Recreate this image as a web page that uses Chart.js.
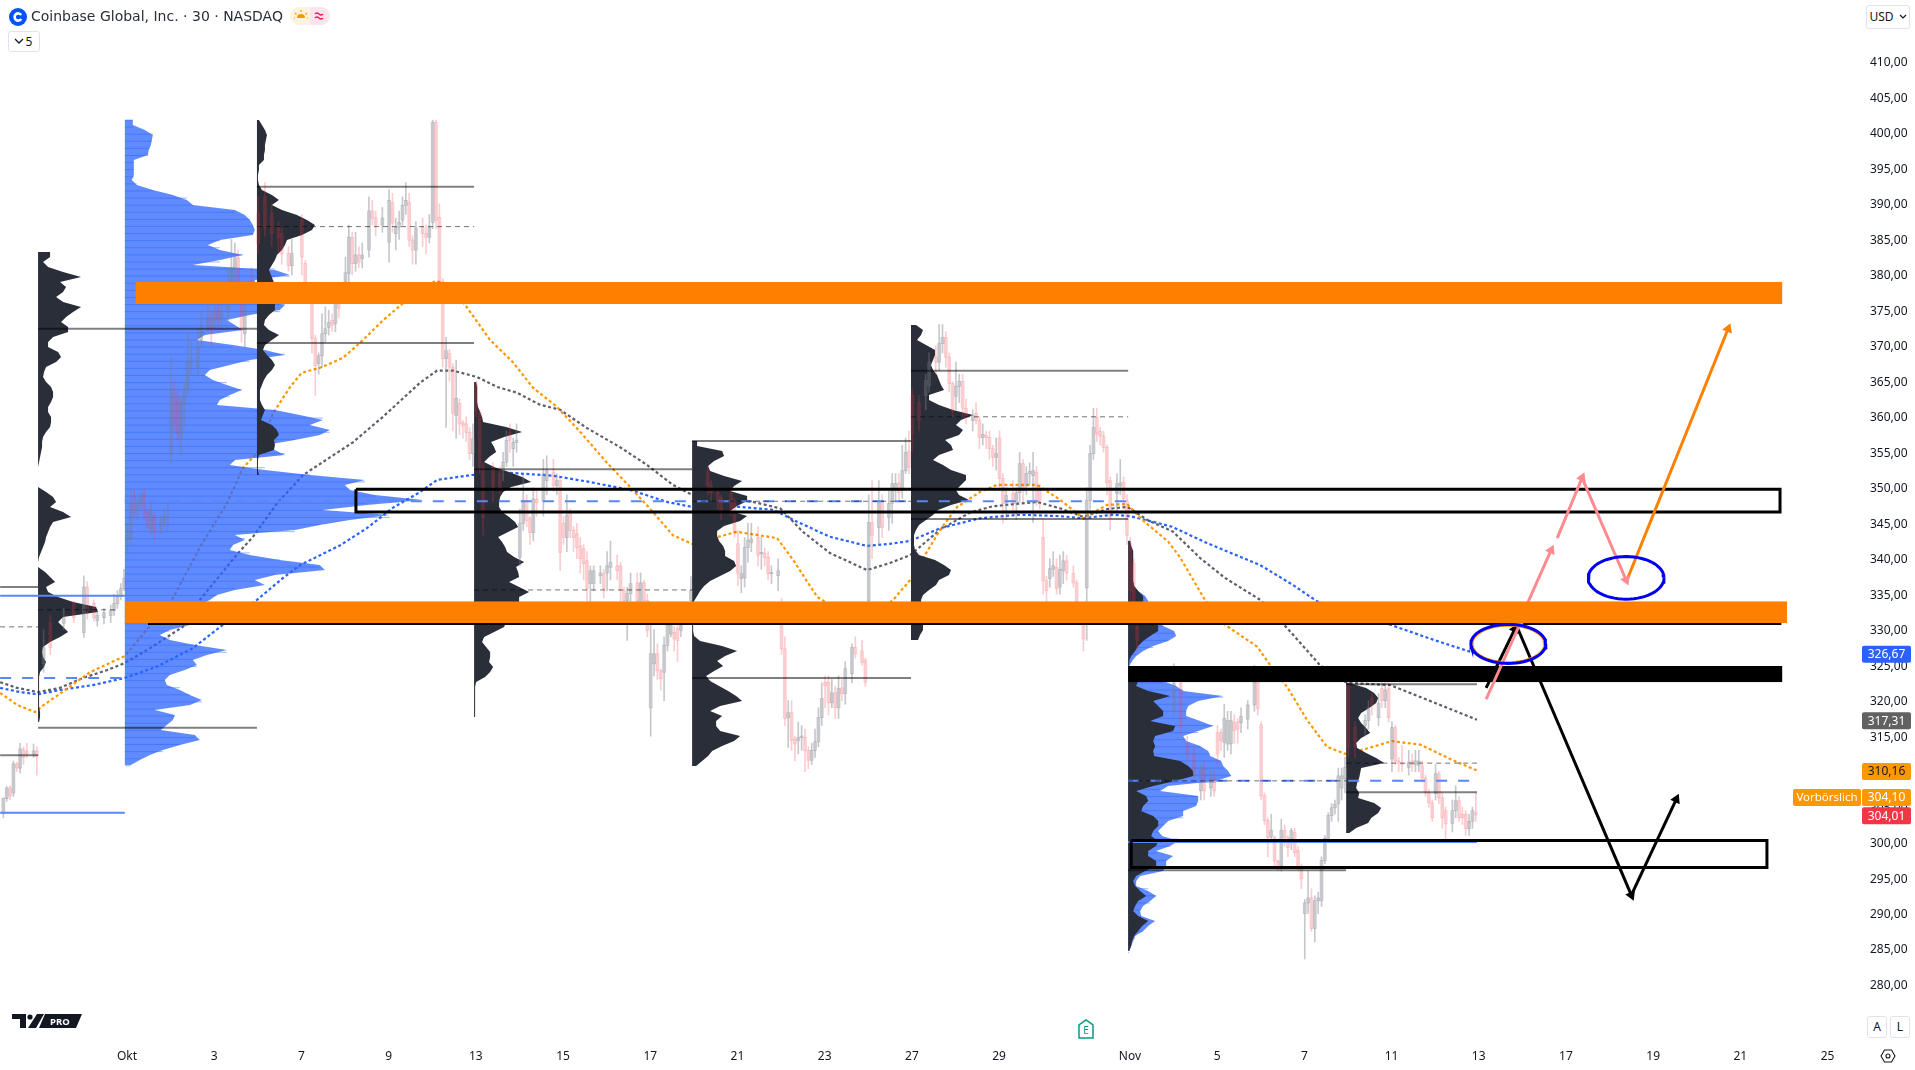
<!DOCTYPE html>
<html>
<head>
<meta charset="utf-8">
<title>Coinbase Global, Inc.</title>
<script src="https://cdn.jsdelivr.net/npm/chart.js@4"></script>
<style>
html, body { margin: 0; padding: 0; background: #fff; overflow: hidden; }
body { width: 1915px; height: 1070px; position: relative; font-family: "Noto Sans", sans-serif; color: #131722; }
#myChart { position: absolute; left: 0; top: 0; }
.ui { position: absolute; }
#title { left: 31px; top: 6px; font-family: "DejaVu Sans", sans-serif; font-size: 14px; line-height: 20px; white-space: nowrap; color: #2a2e39; }
.box { border: 1px solid #e0e3eb; border-radius: 3px; background: #fff; box-sizing: border-box; text-align: center; font-size: 12px; }
</style>
</head>
<body>
<canvas id="myChart" width="1915" height="1070"></canvas>

<svg class="ui" style="left:8px;top:7px" width="20" height="20" viewBox="0 0 20 20">
  <circle cx="10" cy="10" r="9" fill="#0052ff"/>
  <path d="M13.2 8a3.6 3.6 0 1 0 0 4" fill="none" stroke="#fff" stroke-width="2.6"/>
</svg>
<div class="ui" id="title">Coinbase Global, Inc. · 30 · NASDAQ</div>
<svg class="ui" style="left:290px;top:7px" width="40" height="18" viewBox="0 0 40 18">
  <path d="M9 0h11v18H9a9 9 0 0 1 0-18z" fill="#fff3e0"/>
  <path d="M20 0h11a9 9 0 0 1 0 18H20z" fill="#fce4ec"/>
  <path d="M7 11a4 4 0 0 1 8 0z" fill="#ff9800"/>
  <path d="M11 3v2M5 6l1.5 1.5M17 6l-1.5 1.5M4 11h1M17 11h1" stroke="#ff9800" stroke-width="1.2"/>
  <path d="M25 7q2-2 4 0t4 0M25 11q2-2 4 0t4 0" fill="none" stroke="#e91e63" stroke-width="1.4"/>
</svg>
<div class="ui box" style="left:8px;top:31px;width:32px;height:21px;line-height:19px;padding-left:10px">5</div>
<svg class="ui" style="left:14px;top:38px" width="10" height="7"><path d="M1 1l4 4 4-4" fill="none" stroke="#131722" stroke-width="1.3"/></svg>
<div class="ui box" style="left:1866px;top:5px;width:44px;height:24px;line-height:22px;padding-right:13px">USD</div>
<svg class="ui" style="left:1899px;top:14px" width="8" height="6"><path d="M1 1l3 3 3-3" fill="none" stroke="#131722" stroke-width="1.2"/></svg>
<div class="ui box" style="left:1867px;top:1016px;width:20px;height:22px;line-height:20px">A</div>
<div class="ui box" style="left:1890px;top:1016px;width:20px;height:22px;line-height:20px">L</div>
<svg class="ui" style="left:1880px;top:1048px" width="16" height="16" viewBox="0 0 16 16">
  <path d="M4.5 2h7L15 8l-3.500 6h-7L1 8z" fill="none" stroke="#131722" stroke-width="1.1"/>
  <circle cx="8" cy="8" r="2" fill="none" stroke="#131722" stroke-width="1.1"/>
</svg>
<svg class="ui" style="left:12px;top:1013px" width="70" height="16" viewBox="0 0 70 16">
  <path d="M0 1h14v14H8V6H0zM25 1h7l-8 14h-8zM33 1h37l-6 14H27z" fill="#131722"/>
  <circle cx="18" cy="4" r="2.6" fill="#131722"/>
  <text x="38" y="12" font-family="Noto Sans" font-size="9.5" font-weight="700" fill="#fff">PRO</text>
</svg>
<svg class="ui" style="left:1077px;top:1018px" width="18" height="22" viewBox="0 0 18 22">
  <path d="M2 20V7l7-5 7 5v13z" fill="#fff" stroke="#089981" stroke-width="1.5"/>
  <text x="9" y="16" text-anchor="middle" font-family="Noto Sans" font-size="10" fill="#089981">E</text>
</svg>

<script>
// time axis is in trading days counted from 1 Okt, one candle is 1/13 day
const dayTicks = [0, 2, 4, 6, 8, 10, 12, 14, 16, 18, 20, 23, 25, 27, 29, 31, 33, 35, 37, 39];
const dayLabels = ['Okt', '3', '7', '9', '13', '15', '17', '21', '23', '27', '29', 'Nov', '5', '7', '11', '13', '17', '19', '21', '25'];
const priceTicks = [280, 285, 290, 295, 300, 305, 310, 315, 320, 325, 330, 335, 340, 345, 350, 355, 360, 365, 370, 375, 380, 385, 390, 395, 400, 405, 410];

// candles: [bar, open, high, low, close]
const candlesSep = [
  [1,304.1,306.3,303.5,306.3],[2,306.2,307.9,305.8,307.7],[3,307.7,308,306,306.6],[4,307,311.5,306.5,311.1],[5,311.1,311.3,310,310.5],
  [6,310.5,314,309.8,313.2],[7,313.1,313.5,311,312],[8,312.9,314,312,312.5],[10,312.5,313.9,312,312.9],[11,312.9,313.5,309.5,312.2],
  [13,325.2,330,324,327.5],[15,331,332,326.5,327.5],[19,330.9,333,330,331.7],[22,333.7,334,331,331.7],[25,329.6,337.6,328.9,336],
  [26,336,336.8,331.5,332.7],[28,333.7,334.2,331.2,331.7],[29,331.3,332.8,330.5,332],[31,331.7,333,330.8,332.4],[33,332,333.5,331,332.7],
  [34,332.7,335,332,333.7],[35,333.7,335.5,333,334.8],[36,334.8,336.5,334.2,335.8],[37,335.8,338.5,335.5,337.2]
];
const candlesEarlyOkt = [
  [38,342.6,345,340.5,343.3],[39,343,349.6,341.8,347.8],[40,348.9,349.6,346,346.8],[41,346.8,348.5,345.5,347.8],[42,347.8,349.3,347,348.6],
  [43,349.2,350,345.5,346.4],[44,346.5,347,344,344.4],[45,344.2,348,343.5,346.4],[46,346.1,346.5,342.5,343.7],[48,344.2,346,343.5,345.1],
  [49,345.1,347,344.5,346],[50,345.8,348,344,346],[51,354.5,368.4,353.5,364],[52,363.3,365,358,359],[53,362.7,364,356.5,357.6],
  [54,357.1,363,354.5,362],[55,361.9,365,358.5,364],[56,364,372,363,367.7],[57,367.5,370.5,366,368.2],[59,367,372.5,366,369.8],
  [60,370.8,375,370,372.6],[62,372.4,376,372,374],[63,373.9,375,370,371.7],[64,373.6,377,372.5,375],[65,375,378,372,373.6],
  [66,374,378,372.5,374.6],[68,375,381,373.5,378.2],[69,377.4,385,376,381],[70,381,384.5,379,382.4],[71,382.4,383.5,378,379.2],
  [72,376.4,379,370.5,372.2],[73,371.7,376.5,369.8,375],[75,379.2,381,376,376.4],[77,388.7,391,383,384.4],[79,391,393,385.5,386.7],
  [81,388.7,390,384,385.8],[83,386.7,387.5,383,385.3],[84,385.8,386.5,381.5,383],[86,383,384,380.5,381.3],[87,381.3,385,380,383],
  [90,387.7,388.5,380,382.5],[91,381.6,382,376,378.8],[93,376.4,377,369,371],[94,371,371.5,363,367.2],[95,367.5,369,366,368.6],
  [96,368.6,374.5,367,371.7],[97,371.7,375.5,370.5,372.4],[98,372.6,375,371.5,373.3],[99,373.6,374.5,372,372.9],[100,373.1,378,372,376]
];
const candlesMidOkt = [
  [101,375.9,377,374,375.3],[103,379,382.5,377,380.3],[104,380.2,387,379,385.3],[105,385.3,386,380,381.6],[106,381.6,386,380.5,382.8],
  [107,382.8,384,381,381.8],[108,382.3,384.5,381,382.8],[110,383.5,391,382.5,389],[111,389,390.5,387,388],[112,388,389,385.5,387],
  [114,387,389.5,386,388],[116,384.6,392,381.8,390.5],[117,390.2,391.5,386,387.3],[118,385.8,388,383.5,386.7],[119,386.7,389,385,387.4],
  [120,387.7,391,387,389.8],[121,389.8,393,388.5,390.5],[122,390.2,391.5,384,384.9],[123,384.9,385.5,381.5,383.5],[124,383.5,387.5,381.5,386.6],
  [126,386.7,388,384,385.8],[127,385.8,387,383,385.3],[128,385.3,388.5,384.5,386.7],[129,387.4,401.8,386.5,401.5],[130,401.5,401.8,386.5,387.7],
  [131,388.1,390,378,379],[132,379,379.5,367,368.2],[133,368.2,371.2,358.5,369.3],[134,368.9,369.5,365,367],[135,367,367.5,358,360.5],
  [136,360.2,368,357,362.6],[137,361.9,362.5,357.5,359],[138,359.2,359.5,357,358.8],[139,359,360,356.5,357.8],[140,357.8,358.5,354,354.8],
  [141,354.8,359,353,356.9],[142,364.7,365,360,360.9],[143,360.6,361,352,352.9],[144,352.9,353.5,343.3,345.8],[147,352.9,353.5,348,350],
  [149,352,353,349,349.9],[150,352.4,355,351,353.6],[151,353.6,358,353,356.7],[152,357.8,359,355,356.7],[153,355.5,357,353,356.4],
  [154,356.4,359,355,356.7],[155,340.2,347,339,345],[156,345,352,344,348.2],[157,348.2,349,344.5,345.4],[158,345.7,346,342,343.7],
  [159,343.7,350,342.5,348.4],[160,348.4,349.5,346,347.9],[162,348.2,354,346,352],[163,351,354.5,349,352.4],[165,352.2,354,349.5,350.3],
  [166,350.3,352,349,351],[167,351,351.5,338.3,340.9],[168,345,346,342,343],[169,343,349,341,346.1],[170,346.4,347,343,344]
];
const candlesLateOkt = [
  [171,344,344.5,341,343],[172,343.5,345,340,341.6],[173,341.8,343,338,340],[174,341.4,342,337,339.3],[175,339.7,341,334,335.8],
  [176,336.5,339,333,338.3],[177,336.5,339,335.5,338.3],[179,337.6,339,336.5,338],[180,337.9,338.5,334.5,335.8],[181,338,341,335.5,339],
  [182,338.8,342.5,337,339.5],[184,339,340.5,337,338.3],[185,339,339.5,334,335.5],[186,335.5,336,333,334.1],[187,334.1,336,328.5,335.1],
  [188,335.1,338,334,336.5],[190,336.6,338,333,334.1],[191,333.8,338,333,336.6],[192,336.6,337,333,334.1],[193,334.1,335,329,329.9],
  [194,319,330.8,315,326.6],[195,325.2,330,323.5,326.6],[196,326.6,328,323,324.2],[197,324.2,324.5,321.5,323.1],[198,324,329,320,327.8],
  [199,327.8,331,327,330.6],[200,329.4,331.5,329,330.6],[201,329.6,330.5,327,328.7],[202,330.2,330.7,325.5,328.5],[203,329.9,331.5,329,330.6],
  [206,334.1,337.5,333.5,335.5],[211,352.2,353,349,350.3],[212,350.3,351,348,349.3],[214,349.3,350,347,348.2],[215,348.6,349,345.5,346.8],
  [218,349.2,350,346,346.8],[219,347.8,348.5,343,343.7],[220,342.1,344,336.2,338],[221,337.2,339,335.2,337.9],[222,337.3,343,336,341.6],
  [223,341.6,345,339.5,342.6],[224,342.3,345,341,342.8],[226,343,344.5,339,340.5],[227,340.7,343,338.5,340.9],[228,340.8,341.5,339,340.2],
  [229,340.2,341,337,337.9],[230,337.9,339,336.5,338],[232,337.6,340,335.5,338.3],[233,330.9,334.4,326.5,327.3],[234,327.3,329,316.5,317.5],
  [235,317.6,320,313.4,318.3],[236,318.3,320,313,314.4],[237,314.6,315,311.5,313.9],[238,314.4,317,312.5,314.8],[239,314.8,316.5,313,315],
  [240,314.8,316,310,313],[241,313,313.5,310.4,311.6],[242,311.6,314,311,313],[243,313,316,312,314.2],[244,314.2,319,313.5,317.6],
  [245,317.6,322.5,316.5,320.3],[246,322.6,323.5,319,322.1],[247,322.6,323.5,318,319.7],[248,319.7,323,319,321.1],[249,321.1,322,317.5,319],
  [250,319,323.5,317.5,321.7],[251,321.8,323,320,321],[252,321,325.5,319.5,324.5],[254,323.8,328,322.5,327.5],[255,327.5,329,326,326.6],
  [257,327,328.5,325,325.4],[258,325.7,326,322,322.6],[259,334.1,349,332,345.1],[260,345.1,351,340,343.3],[262,344.4,351,342,348.2]
];
const candlesEarlyNov = [
  [263,348.2,349,343,344.4],[265,345.8,349.5,344,347.8],[266,347.8,352,345,350.6],[267,349.9,352,348,350.6],[268,350.7,352,348,349.3],
  [269,349.9,356,348.5,352.4],[270,352.4,357,352,355],[271,355.2,358,352,352.9],[272,363,364,355,357.6],[274,362,363,358,359.5],
  [276,363,366,361,365.1],[277,364.4,369,363.5,367.7],[279,368.4,370,366,367.7],[280,367.7,373,366.5,370.3],[281,370.3,373,369,371.2],
  [282,371.2,372,367,368.4],[283,368.4,369,363.5,364.7],[284,364.7,365,360,360.9],[285,362.9,367.7,361,364.3],[286,364.3,366,362,365],
  [287,365,366,360,361.2],[288,361.2,362.5,359,359.9],[290,359.5,361,358,360.2],[291,360.5,362,359,359.5],[292,359.5,360,355.5,357.1],
  [293,357.1,359,356,357.5],[294,357.4,358,355.5,357.1],[295,357.1,358,354,355.5],[296,355.5,356,353,354.3],[297,354.3,357,352.5,354.8],
  [298,357,358,350,351.3],[299,351.3,352,345,347.8],[300,347.8,350,345.5,348.9],[302,349.2,351,346,347.8],[303,347.8,350,345.5,349.3],
  [304,349.3,355,348,353.4],[305,353.4,354,348,349.6],[306,350.3,353,349,352],[307,352,353.5,350.5,352.3],[308,351.7,355,345.1,352.4],
  [309,352.2,353,347.5,348.2],[310,349.6,350.5,347,348.2],[311,343,345.5,335,336.9],[312,336.9,337.5,333.5,335.5],[313,337.2,340,336,338.6],
  [314,338.5,341,337.5,339],[315,338.8,340,335,335.8],[316,336,340.5,335,338.5],[317,338.3,341,336.5,339.7],[318,339.7,340.5,337,338],
  [320,337.9,339,336,336.6],[321,336.6,337,332.5,333.8],[323,330.6,331.5,327,328.7],[324,335.9,350,328.5,348.2],[325,348.2,356,347,354.8],
  [326,354.8,361.2,354,358.5],[327,359.9,361.2,356.5,357.6],[328,357.9,358.5,356,357.3],[329,357.3,358,355,355.7],[330,355.7,356,349,350.7],
  [331,351,351.5,344,345.8],[333,349.2,352,346.5,350.6],[334,350.3,354,349,350.7],[335,350.7,351.5,347,348.5],[336,348.2,349,342,343.3]
];
const candlesMidNov = [
  [337,342.1,343,333,335.5],[338,339.3,340,332,333.7],[339,330.3,331,327,328.5],[350,318.6,325.2,318,322.4],[352,322.4,323,315,316.2],
  [354,313.9,315,311,312.5],[356,312.5,313.5,309,309.7],[358,307.3,311,306,310.4],[359,310.4,311.5,306,307.3],[361,307.7,310,306.5,309.1],
  [362,309.1,310,306.5,307.3],[363,315.5,316.5,311,312.5],[364,315.5,316,313,314.4],[365,314.1,319.5,312,317.5],[366,313.9,318.5,313,317.2],
  [367,313.9,318.5,312.5,317.2],[368,316.9,318,314,315.8],[369,317,317.5,314,316],[370,316.9,319,315.5,317.8],[372,317.4,320,316,319.4],
  [374,319.4,325,318.5,322.6],[375,322.6,323,318,318.9],[376,316.6,317,306,306.6],[377,306.6,307,302.5,303.1],[378,303.1,303.5,298,300.7],
  [379,300.8,304,300.5,301.7],[380,300.7,301,296.5,297.4],[381,297.4,297.5,296,296.7],[382,296.7,303.3,296,301.7],[383,301.7,302.5,299.5,300.7],
  [384,300.7,301,298,299.3],[385,300.6,302,299,301.7],[386,301.4,302,298,298.6],[387,298.9,299.5,296,296.5],[388,296.5,297,293.5,294.9],
  [389,290,292,283.6,291.5],[390,291.5,296,290,292.2],[391,292.2,293.5,287.5,287.9],[392,287.9,292.5,286,291.8],[393,291.8,293,290,292.2],
  [394,291.8,298,291,297.5],[395,297.5,301,297,300.6],[396,300.6,304.2,300,303.8],[397,303.8,305.5,303,304.9],[398,304.9,306,304,305.4],
  [399,305.5,310.5,303,309.4],[400,307.7,310.5,306,309.4],[401,309,312,307,310.6],[402,322.4,323,312,313.4],[404,316.2,317,312,313.4],
  [407,316.5,318,315,317.2],[408,317.2,320,316,319],[409,320.4,321,318,319.3],[411,317.6,321,316.5,319.6],[412,321.7,322.5,319,320],
  [413,320,322.5,319,321.5],[414,321.7,322.5,317,317.6],[415,311.8,317,310,316.2],[416,316.2,316.5,311,311.5],[417,311.5,312,310,311.2],
  [418,311.2,313.7,310,311],[420,310.6,313,309.5,311.3],[421,311.5,312.5,310,311],[422,311,313,310,311.5],[423,310.9,313,310,311.5],
  [424,310.8,311.5,308.5,309.1],[425,309.1,309.5,306.5,307],[426,307,307.5,305,305.6],[427,305.6,306,303,303.5],[428,306.9,311,306,309.7],
  [429,309.7,310,305.5,306.3],[430,306.3,307,302,303.5],[431,304.5,305,300.5,302.7],[433,302.7,306,301.5,304.5],[434,304.5,308,303.5,305.9],
  [435,305.9,306.5,303,303.5],[436,304,305,302.5,303.5],[437,304,304.5,301,302],[438,302,304,301,303],[439,303,305,302,304.5],[440,304.2,307,303,303.9]
];
const candleGroups = [candlesSep, candlesEarlyOkt, candlesMidOkt, candlesLateOkt, candlesEarlyNov, candlesMidNov];
const firstBarDay = -2.913;
const barsPerDay = 13;

// volume profile rows run down from the top price, rowStep dollars apart
const rowStep = 0.7045;
const profileStarts = [-2.04, 2.98, 7.96, 12.96, 17.98, 22.96, 27.96];
const profileTops = [383.22, 401.82, 364.9, 356.59, 372.93, 342.5, 322.48];
const volSep = [12,12,5,10,25,43,22,28,25,18,25,43,35,28,23,30,30,15,10,10,20,23,18,8,6,5,8,13,15,15,13,10,10,13,13,12,8,5,4,4,3,2,1,0,0,0,0,0,8,15,18,12,25,33,15,12,10,8,7,5,3,1,0,0,7,12,17,8,10,20,35,58,60,25,20,25,30,22,12,5,4,5,8,6,2,1,1,1,1,1,1,1,2,2,1];
const volOkt = [2,5,8,10,9,8,8,7,7,2,2,1,1,2,5,15,22,15,25,40,50,58,55,45,30,28,25,20,18,15,12,14,16,18,18,18,18,18,18,12,8,7,12,22,15,8,6,10,15,18,15,10,7,5,3,3,3,5,8,6,4,15,20,22,17,18,17,2,1,1,1,2];
const volOkt2 = [2,3,3,3,3,4,6,8,9,32,48,30,17,20,22,15,10,20,35,48,57,37,29,26,25,25,28,35,41,44,34,24,28,31,33,40,50,42,44,45,35,45,55,45,45,40,36,34,32,30,20,10,8,12,16,16,15,19,16,11,2,1,1,1,1,1,1,1];
const volOkt3 = [5,5,30,32,22,16,18,32,50,42,38,55,55,45,38,55,48,32,25,25,27,31,33,33,42,44,38,28,18,12,8,5,2,1,1,1,1,1,1,2,8,30,45,33,25,31,22,14,18,27,36,44,50,28,18,30,24,24,28,48,42,30,20,16,10,4];
const volOkt4 = [5,12,10,6,15,24,24,22,20,22,26,28,30,33,18,18,28,42,62,50,45,52,48,34,40,42,28,22,32,40,55,55,50,45,48,58,40,27,22,15,8,5,3,3,3,4,8,24,33,40,38,28,25,18,12,10,10,10,10,10,12,12,9,7];
const volNov = [2,3,5,5,5,5,5,5,5,6,10,15,15,18,20,25,28,30,30,22,15,10,7,3,1,1,1,1,10,8,20,42,25,30,35,35,22,47,45,27,25,27,25,26,52,60,65,65,47,25,8,18,20,15,13,25,30,30,25,23,30,28,20,20,28,28,17,8,5,7,12,18,10,7,5,10,20,14,10,6,4,3,1];
const volNov2 = [3,20,28,32,30,23,15,12,15,20,24,15,10,11,20,30,38,15,14,13,11,10,13,12,28,35,32,25,22,10,3];
const darkProfiles = [volSep, volOkt, volOkt2, volOkt3, volOkt4, volNov, volNov2];

// the blue profiles, one over all of Okt and one for Nov
const blueStartOkt = -0.05;
const blueTopOkt = 401.82;
const blueVolOkt = [8,8,20,28,27,26,24,23,9,9,9,9,7,12,28,48,62,68,110,120,125,128,130,128,95,83,95,118,95,68,150,165,130,130,130,130,130,160,155,125,102,110,118,80,72,108,140,160,125,105,85,80,88,102,117,105,95,92,150,175,198,185,205,195,170,140,150,160,110,105,140,185,240,220,225,250,298,242,198,265,225,195,170,110,120,108,105,125,155,195,200,150,130,140,110,92,85,75,70,68,66,65,45,35,45,70,102,82,68,72,60,45,40,42,55,65,77,65,30,50,48,42,36,70,75,55,38,25,15,6];
const blueStartNov = 22.96;
const blueTopNov = 342.5;
const blueVolNov = [2,3,5,5,5,5,5,5,5,6,10,17,20,20,22,27,30,35,46,48,40,25,15,8,4,1,1,1,35,48,55,95,70,60,58,58,72,85,70,55,58,72,80,82,93,95,100,103,88,40,32,70,70,68,55,55,40,35,30,34,50,42,28,45,38,38,35,12,8,8,20,28,22,15,12,13,27,20,15,7,5,3,1];
const volPerDay = 43.6; // profile width unit

// moving averages
const orangeDays = [-2.91,-2.52,-2.11,-1.93,-1.42,-0.85,-0.05,1.03,1.67,2.29,2.66,2.98,3.35,3.74,4.01,4.43,4.95,5.41,5.87,6.33,7.06,7.25,7.75,8.33,8.85,9.31,9.86,10.39,11.01,11.54,12.06,12.52,12.96,13.99,14.91,15.28,15.83,16.88,17.57,17.96,18.26,18.65,19.04,19.56,19.95,20.87,21.4,21.93,22.48,22.94,23.28,23.88,24.15,24.72,25.18,25.92,26.22,26.61,27.06,27.52,27.94,28.35,29.01,29.66,30.41,30.96];
const orangePrices = [321.1,319.4,318.4,319.3,321.5,324,326.3,334.2,341.6,347.8,352.8,354.9,360.5,364.2,366.2,366.9,368.3,370.8,373.6,376,379.1,378.9,375.8,370.8,367.7,364.1,361.4,357.9,353.5,350.1,346.6,343.3,342.1,343.8,342.9,339.8,334.6,330.7,334.2,337,340.1,344.1,347.3,349.4,350.4,350.4,348.3,345.7,347.6,347.7,345.5,342.4,340.2,334.2,330.7,327.6,325,321.9,317.3,313.5,312.5,313.1,314.3,313.8,311.6,310.16];
const grayDays = [-2.91,-2.52,-2.04,-1.54,-1.01,-0.46,-0.05,0.53,1.28,1.67,2.55,2.89,3.44,4.04,5.18,5.87,6.72,7.11,7.48,8.03,8.49,8.94,9.47,9.93,10.55,11.31,11.93,12.52,12.96,14.36,14.98,15.5,16.12,16.97,17.5,17.96,18.65,19.33,19.86,20.87,21.4,21.93,22.48,22.94,23.39,23.99,24.61,25.18,25.99,26.61,27.36,27.98,28.97,29.95,30.96];
const grayPrices = [322.6,321.8,321.2,321.8,323.2,324.3,325.3,327.4,330.4,334.2,340.8,343.1,347.8,351.8,356.4,360,364.8,366.5,366.5,365.6,364.2,363.4,361.7,361,358.4,355.7,353.2,350.4,349,348,347.1,343.8,340.8,338.4,339.4,340.5,344.1,346.5,347.4,348,347.1,345.9,347,347.3,345.5,343.8,340.1,337.3,334.2,330.2,325,322.5,322.2,319.8,317.31];
const blueDays = [-2.91,-2.45,-2.04,-1.54,-0.78,-0.05,0.69,1.51,2.2,2.98,3.58,3.97,4.89,5.5,6.1,6.72,7.11,7.91,8.78,9.77,10.62,11.54,12.39,12.96,14.06,14.82,15.37,16.12,16.97,17.5,17.96,18.65,19.56,20.48,21.4,21.93,22.61,23,23.53,23.97,24.77,25.99,26.74,27.29,28.97,29.95,30.8,30.96];
const bluePrices = [321.8,321.2,320.9,321.5,322.2,323.2,324.8,327.4,330.7,334.2,337.3,339.1,341.9,344.3,347.2,349.4,351.1,351.8,352.1,351.7,350.8,349.7,348,347.3,347.3,346.9,345.2,343.1,341.8,342.1,342.5,344.3,345.7,346.2,346,345.7,346.2,346,345.2,344.5,342.2,339.1,336.3,334,330.7,328.6,326.9,326.67];

// profile levels: [from day, to day, price]
const grayLevels = [[-2.04,2.98,372.4],[-2.04,2.98,316.2],[-2.91,-2.04,336],[-2.91,-2.04,312.3],[2.98,7.96,392.4],[2.98,7.96,370.4],[7.96,12.96,352.6],[12.96,17.98,356.6],[12.96,17.98,323.2],[17.98,22.96,366.5],[17.98,22.96,345.6],[22.96,27.96,296.1],[27.96,30.96,322.3],[27.96,30.96,307.1]];
const blueLevels = [[-2.91,-0.05,334.8],[-2.91,-0.05,304.2],[22.96,30.96,300.1]];
const grayPocs = [[-2.91,-2.04,330.4],[-2.04,-0.2,332.8],[2.98,7.96,386.8],[7.96,12.96,335.6],[12.96,17.98,348.1],[17.98,22.96,360],[22.96,27.96,308.7],[27.96,30.96,311.2]];
const bluePocs = [[-2.91,-0.05,323.2],[-0.05,22.96,348.1],[22.96,30.96,308.7]];

// hand drawn zones: [from day, to day, top price, bottom price]
const orangeZones = [[0.2,37.96,379,375.9],[-0.05,38.07,334,330.9]];
const blackZone = [22.96,37.96,324.9,322.6];
const boxes = [[5.25,37.91,349.8,346.6],[23.03,37.61,300.3,296.5]];
const bottomRule = [0.48,37.94,330.8];

// arrows: [from day, from price, to day, to price]
const blackArrows = [[31.17,321.8,31.83,330.1],[31.9,330.1,34.5,292.6],[34.5,292.6,35.53,306.1]];
const pinkArrows = [[31.17,320.2,31.95,330.9],[32.13,333.9,32.66,341.2],[32.8,342.9,33.37,351.4],[33.37,351.4,34.38,337]];
const orangeArrows = [[34.4,337,36.72,372.4]];
// ellipses: [centre day, centre price, day radius, price radius]
const blueRings = [[31.68,328,0.86,2.75],[34.38,337.3,0.87,3]];
const orangeRing = [31.68,328,0.82,2.55];

// price tags on the axis
const tagValues = [326.67, 317.31, 310.16, 304.10, 304.01];
const tagColors = ['#2962ff', '#616161', '#ff9800', '#ff9800', '#f23645'];
const tagTextColors = ['#fff', '#fff', '#131722', '#fff', '#fff'];
const tagShift = [1, 1, 1, -16, 1.5];

const fontName = '"Noto Sans", sans-serif';

function formatPrice(v) {
    return v.toFixed(2).replace('.', ',');
}

function spanPoints(rows) {
    let pts = [];
    rows.forEach(r => {
        pts.push({x: r[0], y: r[2]}, {x: r[1], y: r[2]}, {x: null, y: null});
    });
    return pts;
}

function lineSet(points, color, width, order, extra) {
    return Object.assign({
        type: 'line',
        data: points,
        borderColor: color,
        borderWidth: width,
        pointRadius: 0,
        fill: false,
        tension: 0,
        order: order
    }, extra || {});
}

// filled shape that closes against a vertical line at baseDay
function sideFill(points, baseDay, color, order) {
    return {
        type: 'line',
        indexAxis: 'y',
        data: points,
        borderWidth: 0,
        borderColor: 'rgba(0,0,0,0)',
        backgroundColor: color,
        pointRadius: 0,
        tension: 0,
        fill: {value: baseDay},
        order: order
    };
}

function profileSet(start, top, vols, color, order) {
    let pts = vols.map((v, i) => ({x: start + v / volPerDay, y: top - i * rowStep}));
    return sideFill(pts, start, color, order);
}

// darker row lines inside a blue profile, one per dollar
function rowLines(start, top, vols) {
    let rows = [];
    for (let k = 0; k * rowStep * 1.42 < vols.length * rowStep; k++) {
        let v = vols[Math.round(k / rowStep)];
        if (v) rows.push([start, start + v / volPerDay, top - k]);
    }
    return rows;
}

function zoneSet(z, color, order) {
    return sideFill([{x: z[1], y: z[2]}, {x: z[1], y: z[3]}], z[0], color, order);
}

function boxSet(b, order) {
    let pts = [{x: b[0], y: b[2]}, {x: b[1], y: b[2]}, {x: b[1], y: b[3]}, {x: b[0], y: b[3]}, {x: b[0], y: b[2]}];
    return lineSet(pts, '#000', 3, order, {borderJoinStyle: 'miter'});
}

function arrowSet(a, color, order) {
    return lineSet([{x: a[0], y: a[1]}, {x: a[2], y: a[3]}], color, 3, order, {
        pointRadius: [0, 6],
        pointStyle: 'triangle',
        pointBackgroundColor: color,
        pointBorderWidth: 0,
        pointRotation: function (ctx) {
            let sx = ctx.chart.scales.x, sy = ctx.chart.scales.y;
            let dx = sx.getPixelForValue(a[2]) - sx.getPixelForValue(a[0]);
            let dy = sy.getPixelForValue(a[3]) - sy.getPixelForValue(a[1]);
            return Math.atan2(dx, -dy) * 180 / Math.PI;
        }
    });
}

function ringSet(r, color, width, order) {
    let pts = [];
    for (let i = 0; i <= 60; i++) {
        let t = i / 60 * Math.PI * 2;
        pts.push({x: r[0] + r[2] * Math.cos(t), y: r[1] + r[3] * Math.sin(t)});
    }
    return lineSet(pts, color, width, order);
}

// body and wicks are separate bars so the see-through colours don't add up
let bodies = [], wicks = [], bodyColors = [], wickColors = [];
const upColor = 'rgba(120,123,134,0.42)';
const downColor = 'rgba(242,54,69,0.25)';
candleGroups.forEach(group => {
    group.forEach(c => {
        let x = firstBarDay + c[0] / barsPerDay;
        let top = Math.max(c[1], c[4]), bottom = Math.min(c[1], c[4]);
        let color = c[4] >= c[1] ? upColor : downColor;
        bodies.push({x: x, y: [bottom, top]});
        bodyColors.push(color);
        if (c[2] > top) { wicks.push({x: x, y: [top, c[2]]}); wickColors.push(color); }
        if (c[3] < bottom) { wicks.push({x: x, y: [c[3], bottom]}); wickColors.push(color); }
    });
});

const LAYER = {ma: 90, blue: 80, dark: 70, wick: 61, body: 60, level: 50, zone: 40, arrow: 30, ring: 20, band: 10};

let datasets = [];
const maDash = {borderDash: [3, 2.5]};
datasets.push(lineSet(orangeDays.map((d, i) => ({x: d, y: orangePrices[i]})), '#ff9800', 2.2, LAYER.ma, maDash));
datasets.push(lineSet(grayDays.map((d, i) => ({x: d, y: grayPrices[i]})), '#5d606b', 2.2, LAYER.ma, maDash));
datasets.push(lineSet(blueDays.map((d, i) => ({x: d, y: bluePrices[i]})), '#2962ff', 2.2, LAYER.ma, maDash));

const blueFill = 'rgba(41,98,255,0.74)';
datasets.push(profileSet(blueStartOkt, blueTopOkt, blueVolOkt, blueFill, LAYER.blue));
datasets.push(profileSet(blueStartNov, blueTopNov, blueVolNov, blueFill, LAYER.blue));
datasets.push(lineSet(spanPoints(rowLines(blueStartOkt, blueTopOkt, blueVolOkt)), 'rgba(41,98,255,0.45)', 1, LAYER.blue - 1));
datasets.push(lineSet(spanPoints(rowLines(blueStartNov, blueTopNov, blueVolNov)), 'rgba(41,98,255,0.45)', 1, LAYER.blue - 1));

darkProfiles.forEach((vols, i) => {
    datasets.push(profileSet(profileStarts[i], profileTops[i], vols, '#2a2e39', LAYER.dark));
});

datasets.push({type: 'bar', data: wicks, backgroundColor: wickColors, barThickness: 1, grouped: false, order: LAYER.wick});
datasets.push({type: 'bar', data: bodies, backgroundColor: bodyColors, barThickness: 3, minBarLength: 1, grouped: false, order: LAYER.body});

datasets.push(lineSet(spanPoints(grayLevels), 'rgba(0,0,0,0.5)', 2, LAYER.level));
datasets.push(lineSet(spanPoints(blueLevels), '#5b85fa', 2, LAYER.level));
datasets.push(lineSet(spanPoints(grayPocs), 'rgba(0,0,0,0.55)', 1, LAYER.level, {borderDash: [5, 4]}));
datasets.push(lineSet(spanPoints(bluePocs), '#5b85fa', 2, LAYER.level, {borderDash: [11, 11]}));

datasets.push(zoneSet(blackZone, '#000', LAYER.zone));
boxes.forEach(b => datasets.push(boxSet(b, LAYER.zone)));
datasets.push(lineSet(spanPoints([bottomRule]), '#000', 2, LAYER.zone));

blackArrows.forEach(a => datasets.push(arrowSet(a, '#000', LAYER.arrow)));
pinkArrows.forEach(a => datasets.push(arrowSet(a, '#ff8a8f', LAYER.arrow - 1)));
orangeArrows.forEach(a => datasets.push(arrowSet(a, '#ff8000', LAYER.arrow - 1)));

datasets.push(ringSet(orangeRing, '#ff9800', 1.5, LAYER.ring + 1));
blueRings.forEach(r => datasets.push(ringSet(r, '#0000f0', 3, LAYER.ring)));

orangeZones.forEach(z => datasets.push(zoneSet(z, '#ff8000', LAYER.band)));

// axis price tags go on top of the tick labels
const priceTags = {
    id: 'priceTags',
    afterDraw(chart) {
        const ctx = chart.ctx;
        const sy = chart.scales.y;
        const left = chart.chartArea.right;
        ctx.save();
        ctx.font = '12px ' + fontName;
        ctx.textBaseline = 'middle';
        tagValues.forEach((v, i) => {
            let y = sy.getPixelForValue(v) + tagShift[i];
            ctx.fillStyle = tagColors[i];
            ctx.beginPath();
            ctx.roundRect(left, y - 8.5, 49, 17, 2);
            ctx.fill();
            ctx.fillStyle = tagTextColors[i];
            ctx.textAlign = 'center';
            ctx.fillText(formatPrice(v), left + 24.5, y + 0.5);
            if (i === 3) {
                ctx.fillStyle = '#ff9800';
                ctx.beginPath();
                ctx.roundRect(left - 69, y - 8.5, 68, 17, 2);
                ctx.fill();
                ctx.fillStyle = '#fff';
                ctx.font = '11.5px ' + fontName;
                ctx.fillText('Vorbörslich', left - 35, y + 0.5);
                ctx.font = '12px ' + fontName;
            }
        });
        ctx.restore();
    }
};

// the scales ask for room around their first and last label, this chart fills the window
function dropAxisPadding(axis) {
    axis.paddingLeft = 0;
    axis.paddingRight = 0;
    axis.paddingTop = 0;
    axis.paddingBottom = 0;
}

new Chart(document.getElementById('myChart').getContext('2d'), {
    data: {datasets: datasets},
    plugins: [priceTags],
    options: {
        responsive: false,
        animation: false,
        events: [],
        layout: {padding: 0, autoPadding: false},
        plugins: {legend: {display: false}, tooltip: {enabled: false}, title: {display: false}},
        scales: {
            x: {
                type: 'linear',
                offset: false,
                min: -2.913,
                max: 39.79,
                grid: {display: false, drawTicks: false},
                border: {display: false},
                afterBuildTicks: axis => { axis.ticks = dayTicks.map(d => ({value: d})); },
                afterFit: axis => { axis.height = 26; dropAxisPadding(axis); },
                ticks: {
                    autoSkip: false,
                    maxRotation: 0,
                    padding: 5,
                    color: '#131722',
                    font: {family: fontName, size: 12},
                    callback: v => dayLabels[dayTicks.indexOf(v)]
                }
            },
            y: {
                type: 'linear',
                position: 'right',
                min: 271.62,
                max: 418.73,
                grid: {display: false, drawTicks: false},
                border: {display: false},
                afterBuildTicks: axis => { axis.ticks = priceTicks.map(p => ({value: p})); },
                afterFit: axis => { axis.width = 53; dropAxisPadding(axis); },
                ticks: {
                    autoSkip: false,
                    padding: 8,
                    labelOffset: 1,
                    color: '#131722',
                    font: {family: fontName, size: 12},
                    callback: v => formatPrice(v)
                }
            }
        }
    }
});
</script>
</body>
</html>
